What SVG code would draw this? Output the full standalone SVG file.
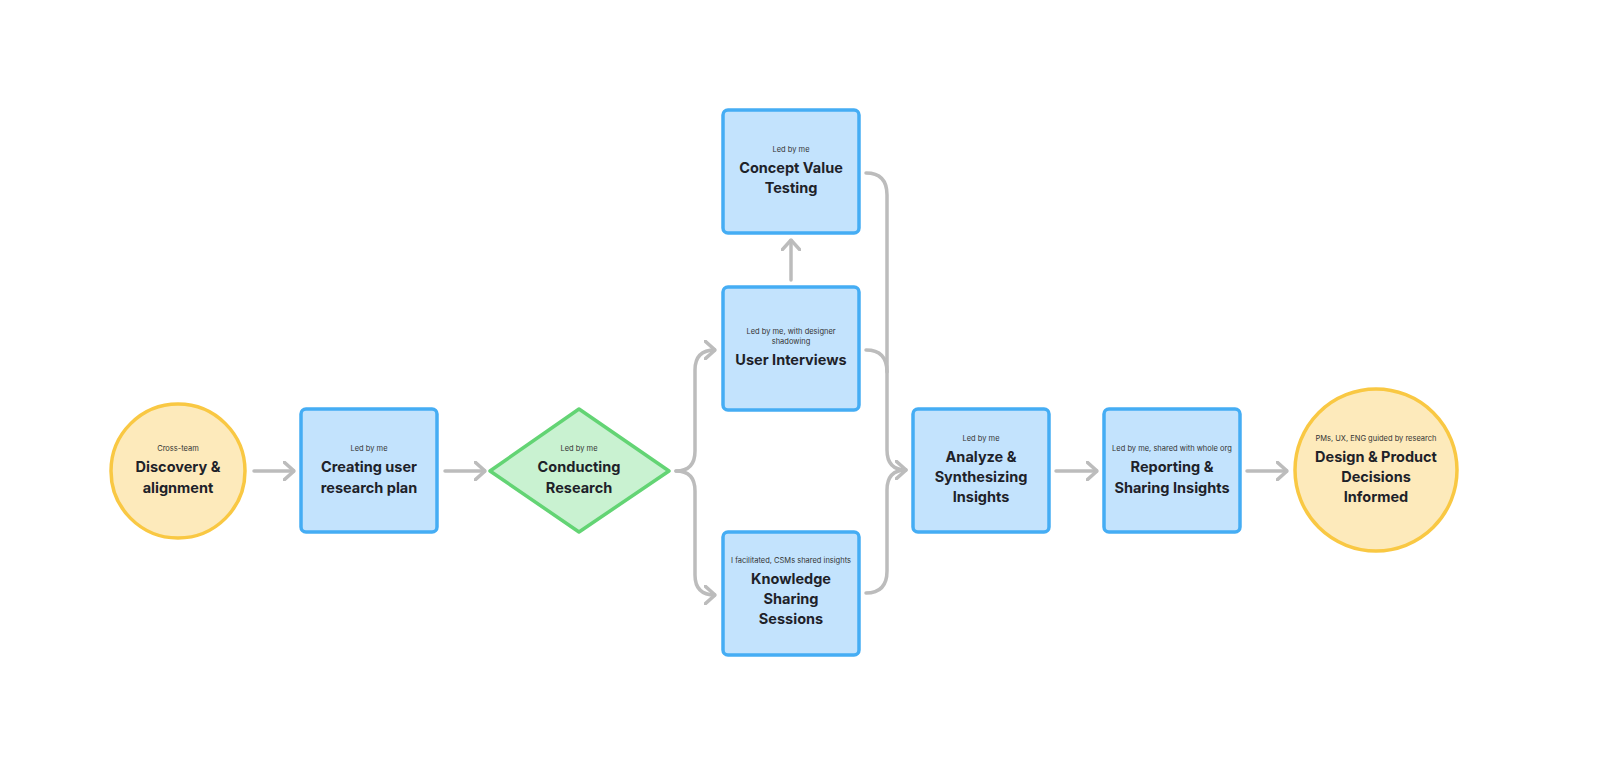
<svg xmlns="http://www.w3.org/2000/svg" width="1600" height="781" viewBox="0 0 1600 781">
<defs>
<style>
.b{fill:#c3e3fd;stroke:#45adf4;stroke-width:3.5}
.y{fill:#fdeabb;stroke:#f9c843;stroke-width:3.5}
.g{fill:#c9f2d1;stroke:#63d474;stroke-width:3.5}
.s{font-family:Inter,"Liberation Sans",sans-serif;font-size:7.5px;fill:#333;text-anchor:middle}
.t{font-family:Inter,"Liberation Sans",sans-serif;font-size:14.5px;font-weight:700;fill:#1e2229;text-anchor:middle}
.c{fill:none;stroke:#bcbcbc;stroke-width:3.5;stroke-linecap:round;stroke-linejoin:round}
</style>
<marker id="a" viewBox="0 0 12 20" refX="11" refY="10" markerWidth="12" markerHeight="20" markerUnits="userSpaceOnUse" orient="auto"><path d="M1,1 L11,10 L1,19" fill="none" stroke="#bcbcbc" stroke-width="3.5" stroke-linecap="round" stroke-linejoin="round"/></marker>
</defs>
<rect width="1600" height="781" fill="#fff"/>
<g id="connectors">
<path class="c" d="M254,471 H294" marker-end="url(#a)"/>
<path class="c" d="M445,471 H485" marker-end="url(#a)"/>
<path class="c" d="M676,471 Q695,471 695,451 V370 Q695,350 715,350" marker-end="url(#a)"/>
<path class="c" d="M676,471 Q695,471 695,491 V575 Q695,595 715,595" marker-end="url(#a)"/>
<path class="c" d="M791,280 V240" marker-end="url(#a)"/>
<path class="c" d="M866,173 Q887,173 887,195 V450 Q887,470 906,470" marker-end="url(#a)"/>
<path class="c" d="M866,350 Q887,350 887,372"/>
<path class="c" d="M866,593 Q887,593 887,571 V490 Q887,470 906,470"/>
<path class="c" d="M1056,471 H1097" marker-end="url(#a)"/>
<path class="c" d="M1247,471 H1287" marker-end="url(#a)"/>
</g>
<g id="n1"><circle class="y" cx="178" cy="471" r="67"/><text class="s" x="178" y="451">Cross-team</text><text class="t" x="178" y="472">Discovery &amp;</text><text class="t" x="178" y="493">alignment</text></g>
<g id="n2"><rect class="b" x="301" y="409" width="136" height="123" rx="5"/><text class="s" x="369" y="451">Led by me</text><text class="t" x="369" y="472">Creating user</text><text class="t" x="369" y="493">research plan</text></g>
<g id="n3"><path class="g" d="M579,409 L669,471 L579,532 L490,471 Z" stroke-linejoin="round"/><text class="s" x="579" y="451">Led by me</text><text class="t" x="579" y="472">Conducting</text><text class="t" x="579" y="493">Research</text></g>
<g id="n4"><rect class="b" x="723" y="110" width="136" height="123" rx="5"/><text class="s" x="791" y="152">Led by me</text><text class="t" x="791" y="173">Concept Value</text><text class="t" x="791" y="193">Testing</text></g>
<g id="n5"><rect class="b" x="723" y="287" width="136" height="123" rx="5"/><text class="s" x="791" y="334">Led by me, with designer</text><text class="s" x="791" y="344">shadowing</text><text class="t" x="791" y="365">User Interviews</text></g>
<g id="n6"><rect class="b" x="723" y="532" width="136" height="123" rx="5"/><text class="s" x="791" y="563">I facilitated, CSMs shared insights</text><text class="t" x="791" y="584">Knowledge</text><text class="t" x="791" y="604">Sharing</text><text class="t" x="791" y="624">Sessions</text></g>
<g id="n7"><rect class="b" x="913" y="409" width="136" height="123" rx="5"/><text class="s" x="981" y="441">Led by me</text><text class="t" x="981" y="462">Analyze &amp;</text><text class="t" x="981" y="482">Synthesizing</text><text class="t" x="981" y="502">Insights</text></g>
<g id="n8"><rect class="b" x="1104" y="409" width="136" height="123" rx="5"/><text class="s" x="1172" y="451">Led by me, shared with whole org</text><text class="t" x="1172" y="472">Reporting &amp;</text><text class="t" x="1172" y="493">Sharing Insights</text></g>
<g id="n9"><circle class="y" cx="1376" cy="470" r="81"/><text class="s" x="1376" y="441">PMs, UX, ENG guided by research</text><text class="t" x="1376" y="462">Design &amp; Product</text><text class="t" x="1376" y="482">Decisions</text><text class="t" x="1376" y="502">Informed</text></g>
</svg>
